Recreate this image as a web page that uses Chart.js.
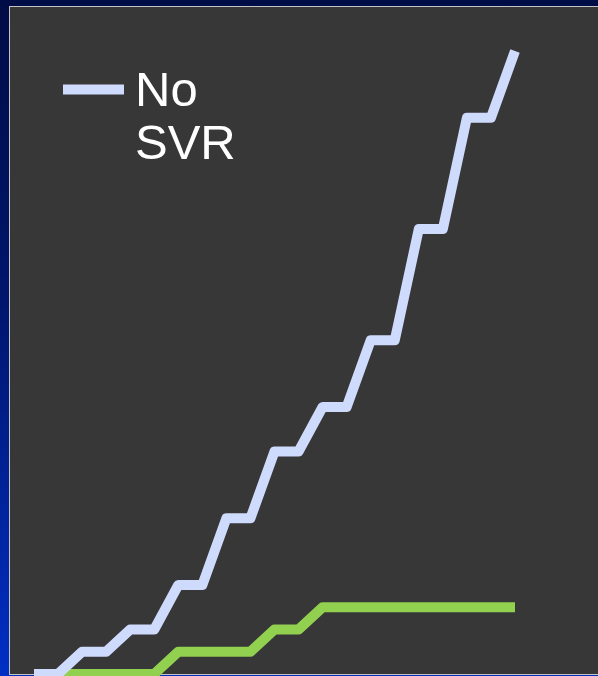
<!DOCTYPE html>
<html>
<head>
<meta charset="utf-8">
<script src="https://cdn.jsdelivr.net/npm/chart.js@4/dist/chart.umd.min.js"></script>
<style>
  html, body { margin: 0; padding: 0; }
  body {
    width: 598px; height: 676px; overflow: hidden;
    background: linear-gradient(to bottom, #000c45 0%, #00166e 45%, #002fc4 100%);
  }
  #wrap { position: relative; width: 598px; height: 676px; }
</style>
</head>
<body>
<div id="wrap"><canvas id="myChart"></canvas></div>
<script>
// years of follow-up, cumulative events per group
let labels = ['0','1','2','3','4','5','6','7','8','9','10','11','12','13','14','15','16','17','18','19','20'];
let noSvr  = [0,0,1,1,2,2,4,4,7,7,10,10,12,12,15,15,20,20,25,25,28];
let svr    = [0,0,0,0,0,0,1,1,1,1,2,2,3,3,3,3,3,3,3,3,3];
let yMax = 28;

let lavender = '#cfdbfd';
let green = '#92d050';

// dark plot panel behind the lines
const panel = {
    id: 'panel',
    beforeDraw(chart) {
        const ctx = chart.ctx;
        ctx.save();
        ctx.fillStyle = '#373737';
        ctx.fillRect(9.5, 6.5, 600, 668);
        ctx.strokeStyle = '#c4c4c4';
        ctx.lineWidth = 1;
        ctx.strokeRect(9.5, 6.5, 600, 668);
        ctx.restore();
    }
};

// legend: line sample and wrapped label of first dataset
const wrapLegend = {
    id: 'wrapLegend',
    afterDraw(chart) {
        const ctx = chart.ctx;
        const ds = chart.data.datasets[0];
        ctx.save();
        ctx.strokeStyle = ds.borderColor;
        ctx.lineWidth = 10;
        ctx.beginPath();
        ctx.moveTo(63, 89.5);
        ctx.lineTo(124, 89.5);
        ctx.stroke();
        ctx.fillStyle = '#ffffff';
        ctx.font = '49px "Liberation Sans", Arial, sans-serif';
        ctx.textBaseline = 'alphabetic';
        ds.label.split(' ').forEach(function(w, i) {
            ctx.fillText(w, 135, 106 + i * 53);
        });
        ctx.restore();
    }
};

let myChart1 = document.getElementById('myChart').getContext('2d');
let chart1 = new Chart(myChart1, {
    type: 'line',
    data: {
        labels: labels,
        datasets: [{
            label: 'No SVR',
            data: noSvr,
            borderColor: lavender,
            borderWidth: 10,
            borderJoinStyle: 'round',
            pointRadius: 0,
            clip: false
        }, {
            label: 'SVR',
            data: svr,
            borderColor: green,
            borderWidth: 10,
            borderJoinStyle: 'round',
            pointRadius: 0,
            clip: false
        }]
    },
    options: {
        responsive: true,
        maintainAspectRatio: false,
        animation: false,
        layout: { padding: { left: 34, right: 83, top: 51, bottom: 2 } },
        scales: {
            x: { display: false, offset: false },
            y: { display: false, min: 0, max: yMax }
        },
        plugins: {
            legend: { display: false },
            tooltip: { enabled: false }
        }
    },
    plugins: [panel, wrapLegend]
});
</script>
</body>
</html>
